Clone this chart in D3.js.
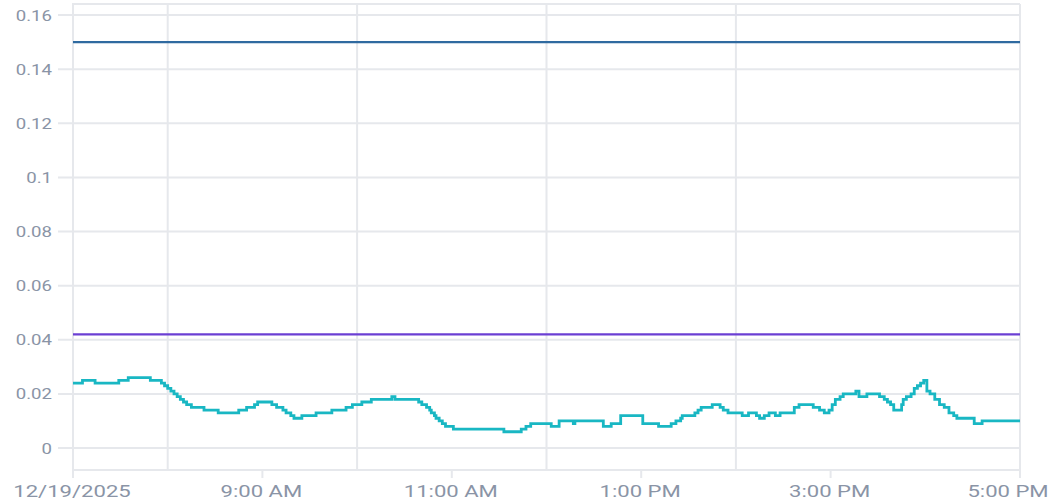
<!DOCTYPE html>
<html><head><meta charset="utf-8">
<script src="https://cdn.jsdelivr.net/npm/d3@7"></script>
<style>
html,body{margin:0;padding:0;background:#fff;}
svg{display:block;}
text{font-family:Roboto,"Noto Sans",sans-serif;fill:#8a94a6;}
</style></head>
<body><svg id="c" width="1056" height="503"></svg>
<script>
const dateLabel = "12/19/2025";
const times = ["07:00","07:06","07:14","07:29","07:35","07:49","07:56","07:58","08:00","08:02","08:04","08:06","08:08","08:10","08:12","08:15","08:23","08:32","08:45","08:50","08:55","08:57","09:06","09:09","09:13","09:15","09:18","09:20","09:25","09:34","09:44","09:53","09:57","10:03","10:09","10:22","10:24","10:39","10:41","10:44","10:46","10:47","10:49","10:50","10:52","10:54","10:56","11:01","11:33","11:44","11:47","11:50","12:03","12:08","12:17","12:18","12:36","12:41","12:47","13:01","13:11","13:19","13:22","13:25","13:26","13:34","13:36","13:38","13:45","13:50","13:52","13:55","14:04","14:08","14:13","14:15","14:18","14:21","14:25","14:28","14:37","14:40","14:49","14:53","14:56","14:59","15:01","15:03","15:06","15:08","15:16","15:18","15:23","15:31","15:34","15:36","15:38","15:40","15:45","15:46","15:48","15:51","15:53","15:55","15:57","15:59","16:01","16:03","16:06","16:09","16:12","16:15","16:18","16:20","16:31","16:36","17:00"];
const values = [0.024,0.025,0.024,0.025,0.026,0.025,0.024,0.023,0.022,0.021,0.020,0.019,0.018,0.017,0.016,0.015,0.014,0.013,0.014,0.015,0.016,0.017,0.016,0.015,0.014,0.013,0.012,0.011,0.012,0.013,0.014,0.015,0.016,0.017,0.018,0.019,0.018,0.017,0.016,0.015,0.014,0.013,0.012,0.011,0.010,0.009,0.008,0.007,0.006,0.007,0.008,0.009,0.008,0.010,0.009,0.010,0.008,0.009,0.012,0.009,0.008,0.009,0.010,0.011,0.012,0.013,0.014,0.015,0.016,0.015,0.014,0.013,0.012,0.013,0.012,0.011,0.012,0.013,0.012,0.013,0.015,0.016,0.015,0.014,0.013,0.014,0.016,0.018,0.019,0.020,0.021,0.019,0.020,0.019,0.018,0.017,0.016,0.014,0.016,0.018,0.019,0.020,0.022,0.023,0.024,0.025,0.021,0.020,0.018,0.016,0.015,0.013,0.012,0.011,0.009,0.010,0.010];
const thresholdHigh = 0.15;
const thresholdLow = 0.042;
const yTicks = [0,0.02,0.04,0.06,0.08,0.1,0.12,0.14,0.16];
const xTickTimes = ["07:00","09:00","11:00","13:00","15:00","17:00"];
const xGridTimes = ["08:00","10:00","12:00","14:00"];
const xRange = ["07:00","17:00"];

const parse = t => { const [h,m] = t.split(":").map(Number); return new Date(2025,11,19,h,m); };
const data = times.map((t,i)=>({t:parse(t), v:values[i]}));

const svg = d3.select("#c");
const L=72, R=1020, T=4, B=470;
const x = d3.scaleTime().domain(xRange.map(parse)).range([L+1,R]);
const y = d3.scaleLinear().domain([0,0.16]).range([448,15]);
const gridC = "#e6e8ec";

svg.append("g").selectAll("line").data(yTicks).join("line")
  .attr("x1",58).attr("x2",R).attr("y1",d=>y(d)).attr("y2",d=>y(d))
  .attr("stroke",gridC).attr("stroke-width",2);
svg.append("g").selectAll("line").data(xGridTimes.map(parse)).join("line")
  .attr("x1",d=>x(d)).attr("x2",d=>x(d)).attr("y1",T).attr("y2",B)
  .attr("stroke",gridC).attr("stroke-width",2);
svg.append("line").attr("x1",L).attr("x2",R).attr("y1",T).attr("y2",T).attr("stroke",gridC).attr("stroke-width",2);
svg.append("line").attr("x1",L).attr("x2",R).attr("y1",B).attr("y2",B).attr("stroke",gridC).attr("stroke-width",2);
svg.append("g").selectAll("line").data(xTickTimes.map(parse)).join("line")
  .attr("x1",d=>x(d)).attr("x2",d=>x(d)).attr("y1",(d,i)=>(i===0||i===xTickTimes.length-1)?T:B).attr("y2",478)
  .attr("stroke",gridC).attr("stroke-width",2);

svg.append("g").selectAll("text").data(yTicks).join("text")
  .attr("transform",d=>`translate(52,${y(d)+5.5}) scale(1.2,1)`)
  .attr("text-anchor","end").style("font-size","15.5px")
  .text(d=>d===0?"0":String(+d.toFixed(2)));
const fmt = d3.timeFormat("%-I:%M %p");
svg.append("g").selectAll("text").data(xTickTimes.map(parse)).join("text")
  .attr("transform",(d,i)=>`translate(${i===xTickTimes.length-1?x(d)-12:x(d)-1},497) scale(1.38,1)`)
  .attr("text-anchor","middle").style("font-size","16px")
  .text((d,i)=>i===0?dateLabel:fmt(d));

svg.append("line").attr("x1",x(parse(xRange[0]))).attr("x2",x(parse(xRange[1])))
  .attr("y1",y(thresholdHigh)).attr("y2",y(thresholdHigh)).attr("stroke","#2f6aa0").attr("stroke-width",2.2);
svg.append("line").attr("x1",x(parse(xRange[0]))).attr("x2",x(parse(xRange[1])))
  .attr("y1",y(thresholdLow)).attr("y2",y(thresholdLow)).attr("stroke","#6b3fd3").attr("stroke-width",2.2);

svg.append("path").datum(data)
  .attr("d",d3.line().x(d=>x(d.t)).y(d=>y(d.v)).curve(d3.curveStepAfter))
  .attr("fill","none").attr("stroke","#19b7c3").attr("stroke-width",2.8);
</script></body></html>
